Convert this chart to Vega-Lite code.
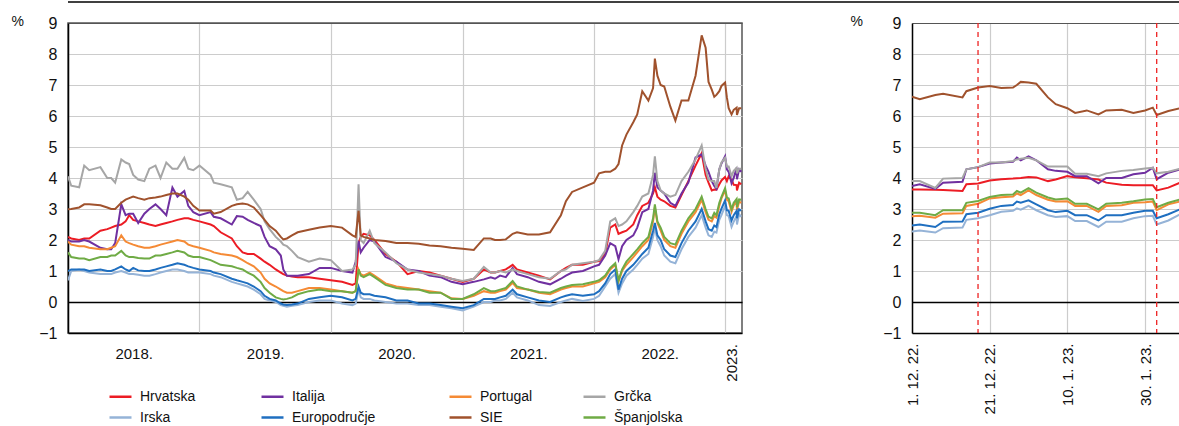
{
"$schema": "https://vega.github.io/schema/vega-lite/v6.json",
"padding": {"left": 10, "top": 1, "right": 0, "bottom": 0},
"background": "white",
"config": {
  "font": "Liberation Sans",
  "view": {"stroke": null},
  "axis": {"labelFont": "Liberation Sans", "labelFontSize": 15, "labelColor": "#111", "titleFont": "Liberation Sans", "titleFontWeight": "normal", "titleFontSize": 14, "titleColor": "#111"},
  "axisY": {"labelOverlap": false, "labelFlush": false}
},
"datasets": {
"long": [
{"dan":"2018-01-01","Hrvatska":2.1,"Italija":2.0,"Portugal":1.95,"Grčka":4.05,"Irska":0.7,"Europodručje":1.0,"SIE":2.99,"Španjolska":1.6},
{"dan":"2018-01-10","Hrvatska":2.05,"Italija":1.95,"Portugal":1.85,"Grčka":3.75,"Irska":1.0,"Europodručje":1.05,"SIE":3.0,"Španjolska":1.45},
{"dan":"2018-02-01","Hrvatska":2.0,"Italija":1.95,"Portugal":1.8,"Grčka":3.7,"Irska":1.05,"Europodručje":1.05,"SIE":3.05,"Španjolska":1.4},
{"dan":"2018-02-15","Hrvatska":2.05,"Italija":2.0,"Portugal":1.8,"Grčka":4.4,"Irska":1.0,"Europodručje":1.05,"SIE":3.15,"Španjolska":1.4},
{"dan":"2018-03-01","Hrvatska":2.05,"Italija":1.95,"Portugal":1.75,"Grčka":4.25,"Irska":0.95,"Europodručje":1.0,"SIE":3.15,"Španjolska":1.35},
{"dan":"2018-04-01","Hrvatska":2.3,"Italija":1.75,"Portugal":1.7,"Grčka":4.35,"Irska":0.9,"Europodručje":1.05,"SIE":3.12,"Španjolska":1.45},
{"dan":"2018-04-20","Hrvatska":2.35,"Italija":1.7,"Portugal":1.7,"Grčka":4.0,"Irska":0.9,"Europodručje":1.0,"SIE":3.05,"Španjolska":1.45},
{"dan":"2018-05-01","Hrvatska":2.4,"Italija":1.7,"Portugal":1.75,"Grčka":4.0,"Irska":0.9,"Europodručje":1.0,"SIE":3.0,"Španjolska":1.5},
{"dan":"2018-05-12","Hrvatska":2.45,"Italija":1.9,"Portugal":1.8,"Grčka":3.85,"Irska":0.95,"Europodručje":1.05,"SIE":3.0,"Španjolska":1.5},
{"dan":"2018-05-29","Hrvatska":2.5,"Italija":3.15,"Portugal":2.15,"Grčka":4.6,"Irska":1.0,"Europodručje":1.15,"SIE":3.2,"Španjolska":1.65},
{"dan":"2018-06-10","Hrvatska":2.6,"Italija":2.8,"Portugal":1.95,"Grčka":4.5,"Irska":0.95,"Europodručje":1.05,"SIE":3.3,"Španjolska":1.5},
{"dan":"2018-06-20","Hrvatska":2.8,"Italija":2.85,"Portugal":1.9,"Grčka":4.45,"Irska":0.9,"Europodručje":1.0,"SIE":3.35,"Španjolska":1.45},
{"dan":"2018-07-01","Hrvatska":2.65,"Italija":2.85,"Portugal":1.85,"Grčka":4.1,"Irska":0.9,"Europodručje":1.1,"SIE":3.4,"Španjolska":1.45},
{"dan":"2018-07-15","Hrvatska":2.6,"Italija":2.55,"Portugal":1.8,"Grčka":3.95,"Irska":0.88,"Europodručje":1.02,"SIE":3.35,"Španjolska":1.42},
{"dan":"2018-08-01","Hrvatska":2.55,"Italija":2.85,"Portugal":1.75,"Grčka":3.9,"Irska":0.85,"Europodručje":1.0,"SIE":3.3,"Španjolska":1.4},
{"dan":"2018-08-15","Hrvatska":2.5,"Italija":3.0,"Portugal":1.75,"Grčka":4.3,"Irska":0.85,"Europodručje":1.0,"SIE":3.35,"Španjolska":1.4},
{"dan":"2018-09-01","Hrvatska":2.45,"Italija":3.15,"Portugal":1.8,"Grčka":4.4,"Irska":0.9,"Europodručje":1.05,"SIE":3.37,"Španjolska":1.5},
{"dan":"2018-09-15","Hrvatska":2.5,"Italija":3.0,"Portugal":1.85,"Grčka":4.0,"Irska":0.95,"Europodručje":1.1,"SIE":3.4,"Španjolska":1.5},
{"dan":"2018-10-01","Hrvatska":2.55,"Italija":2.8,"Portugal":1.9,"Grčka":4.5,"Irska":1.0,"Europodručje":1.15,"SIE":3.45,"Španjolska":1.55},
{"dan":"2018-10-18","Hrvatska":2.6,"Italija":3.69,"Portugal":1.95,"Grčka":4.3,"Irska":1.05,"Europodručje":1.2,"SIE":3.5,"Španjolska":1.6},
{"dan":"2018-11-01","Hrvatska":2.65,"Italija":3.4,"Portugal":2.0,"Grčka":4.3,"Irska":1.05,"Europodručje":1.25,"SIE":3.5,"Španjolska":1.65},
{"dan":"2018-11-20","Hrvatska":2.7,"Italija":3.58,"Portugal":1.95,"Grčka":4.65,"Irska":1.0,"Europodručje":1.2,"SIE":3.4,"Španjolska":1.6},
{"dan":"2018-12-01","Hrvatska":2.7,"Italija":3.1,"Portugal":1.85,"Grčka":4.3,"Irska":0.95,"Europodručje":1.15,"SIE":3.3,"Španjolska":1.5},
{"dan":"2018-12-15","Hrvatska":2.65,"Italija":2.9,"Portugal":1.8,"Grčka":4.25,"Irska":0.95,"Europodručje":1.1,"SIE":3.1,"Španjolska":1.45},
{"dan":"2019-01-01","Hrvatska":2.6,"Italija":2.8,"Portugal":1.75,"Grčka":4.4,"Irska":0.95,"Europodručje":1.05,"SIE":2.95,"Španjolska":1.45},
{"dan":"2019-02-01","Hrvatska":2.5,"Italija":2.9,"Portugal":1.65,"Grčka":4.1,"Irska":0.9,"Europodručje":1.0,"SIE":2.95,"Španjolska":1.35},
{"dan":"2019-02-10","Hrvatska":2.45,"Italija":2.75,"Portugal":1.6,"Grčka":3.85,"Irska":0.85,"Europodručje":0.95,"SIE":2.85,"Španjolska":1.3},
{"dan":"2019-03-01","Hrvatska":2.25,"Italija":2.7,"Portugal":1.55,"Grčka":3.8,"Irska":0.8,"Europodručje":0.9,"SIE":2.9,"Španjolska":1.2},
{"dan":"2019-04-01","Hrvatska":2.05,"Italija":2.5,"Portugal":1.5,"Grčka":3.7,"Irska":0.65,"Europodručje":0.75,"SIE":3.1,"Španjolska":1.15},
{"dan":"2019-04-15","Hrvatska":1.8,"Italija":2.77,"Portugal":1.45,"Grčka":3.3,"Irska":0.6,"Europodručje":0.7,"SIE":3.15,"Španjolska":1.1},
{"dan":"2019-05-01","Hrvatska":1.6,"Italija":2.75,"Portugal":1.35,"Grčka":3.35,"Irska":0.55,"Europodručje":0.65,"SIE":3.18,"Španjolska":1.05},
{"dan":"2019-05-15","Hrvatska":1.55,"Italija":2.65,"Portugal":1.25,"Grčka":3.55,"Irska":0.5,"Europodručje":0.6,"SIE":3.15,"Španjolska":0.95},
{"dan":"2019-06-01","Hrvatska":1.55,"Italija":2.55,"Portugal":1.15,"Grčka":3.3,"Irska":0.4,"Europodručje":0.5,"SIE":3.05,"Španjolska":0.85},
{"dan":"2019-06-20","Hrvatska":1.4,"Italija":2.45,"Portugal":0.95,"Grčka":3.0,"Irska":0.25,"Europodručje":0.35,"SIE":2.8,"Španjolska":0.65},
{"dan":"2019-07-01","Hrvatska":1.3,"Italija":2.1,"Portugal":0.75,"Grčka":2.6,"Irska":0.1,"Europodručje":0.2,"SIE":2.65,"Španjolska":0.45},
{"dan":"2019-07-15","Hrvatska":1.2,"Italija":1.8,"Portugal":0.6,"Grčka":2.35,"Irska":0.05,"Europodručje":0.1,"SIE":2.45,"Španjolska":0.3},
{"dan":"2019-08-01","Hrvatska":1.05,"Italija":1.7,"Portugal":0.5,"Grčka":2.1,"Irska":0.0,"Europodručje":0.05,"SIE":2.3,"Španjolska":0.15},
{"dan":"2019-08-15","Hrvatska":0.95,"Italija":1.5,"Portugal":0.4,"Grčka":1.95,"Irska":-0.1,"Europodručje":-0.05,"SIE":2.1,"Španjolska":0.1},
{"dan":"2019-08-22","Hrvatska":0.9,"Italija":1.05,"Portugal":0.35,"Grčka":1.85,"Irska":-0.12,"Europodručje":-0.08,"SIE":2.02,"Španjolska":0.08},
{"dan":"2019-09-01","Hrvatska":0.85,"Italija":0.85,"Portugal":0.3,"Grčka":1.8,"Irska":-0.15,"Europodručje":-0.1,"SIE":2.05,"Španjolska":0.1},
{"dan":"2019-09-15","Hrvatska":0.82,"Italija":0.85,"Portugal":0.3,"Grčka":1.65,"Irska":-0.12,"Europodručje":-0.08,"SIE":2.15,"Španjolska":0.15},
{"dan":"2019-10-01","Hrvatska":0.8,"Italija":0.85,"Portugal":0.35,"Grčka":1.45,"Irska":-0.1,"Europodručje":-0.05,"SIE":2.25,"Španjolska":0.25},
{"dan":"2019-11-01","Hrvatska":0.8,"Italija":0.9,"Portugal":0.45,"Grčka":1.3,"Irska":0.0,"Europodručje":0.1,"SIE":2.33,"Španjolska":0.35},
{"dan":"2019-12-01","Hrvatska":0.75,"Italija":1.1,"Portugal":0.45,"Grčka":1.4,"Irska":0.05,"Europodručje":0.15,"SIE":2.4,"Španjolska":0.4},
{"dan":"2020-01-01","Hrvatska":0.7,"Italija":1.1,"Portugal":0.4,"Grčka":1.35,"Irska":0.05,"Europodručje":0.2,"SIE":2.45,"Španjolska":0.35},
{"dan":"2020-02-01","Hrvatska":0.65,"Italija":1.0,"Portugal":0.35,"Grčka":1.0,"Irska":-0.05,"Europodručje":0.15,"SIE":2.4,"Španjolska":0.35},
{"dan":"2020-03-01","Hrvatska":0.55,"Italija":0.95,"Portugal":0.3,"Grčka":1.05,"Irska":-0.1,"Europodručje":0.05,"SIE":2.15,"Španjolska":0.3},
{"dan":"2020-03-10","Hrvatska":0.6,"Italija":1.3,"Portugal":0.35,"Grčka":1.2,"Irska":-0.05,"Europodručje":0.1,"SIE":2.1,"Španjolska":0.35},
{"dan":"2020-03-18","Hrvatska":1.9,"Italija":1.97,"Portugal":1.05,"Grčka":3.8,"Irska":0.4,"Europodručje":0.5,"SIE":2.94,"Španjolska":1.05},
{"dan":"2020-03-24","Hrvatska":2.1,"Italija":1.6,"Portugal":0.9,"Grčka":2.0,"Irska":0.15,"Europodručje":0.3,"SIE":2.15,"Španjolska":0.85},
{"dan":"2020-04-01","Hrvatska":2.2,"Italija":1.75,"Portugal":0.85,"Grčka":1.9,"Irska":0.1,"Europodručje":0.25,"SIE":2.1,"Španjolska":0.8},
{"dan":"2020-04-18","Hrvatska":2.15,"Italija":2.0,"Portugal":0.95,"Grčka":2.3,"Irska":0.1,"Europodručje":0.25,"SIE":2.05,"Španjolska":0.9},
{"dan":"2020-05-01","Hrvatska":2.0,"Italija":1.95,"Portugal":0.85,"Grčka":1.9,"Irska":0.05,"Europodručje":0.2,"SIE":2.0,"Španjolska":0.8},
{"dan":"2020-06-01","Hrvatska":1.55,"Italija":1.45,"Portugal":0.6,"Grčka":1.6,"Irska":0.0,"Europodručje":0.15,"SIE":1.97,"Španjolska":0.55},
{"dan":"2020-07-01","Hrvatska":1.3,"Italija":1.3,"Portugal":0.5,"Grčka":1.25,"Irska":-0.05,"Europodručje":0.05,"SIE":1.9,"Španjolska":0.45},
{"dan":"2020-08-01","Hrvatska":0.9,"Italija":1.05,"Portugal":0.45,"Grčka":1.05,"Irska":-0.05,"Europodručje":0.05,"SIE":1.9,"Španjolska":0.4},
{"dan":"2020-09-01","Hrvatska":1.0,"Italija":1.0,"Portugal":0.4,"Grčka":0.95,"Irska":-0.1,"Europodručje":-0.05,"SIE":1.88,"Španjolska":0.4},
{"dan":"2020-10-01","Hrvatska":0.95,"Italija":0.85,"Portugal":0.35,"Grčka":0.9,"Irska":-0.1,"Europodručje":-0.05,"SIE":1.82,"Španjolska":0.3},
{"dan":"2020-11-01","Hrvatska":0.85,"Italija":0.8,"Portugal":0.3,"Grčka":0.85,"Irska":-0.15,"Europodručje":-0.1,"SIE":1.8,"Španjolska":0.3},
{"dan":"2020-12-01","Hrvatska":0.75,"Italija":0.65,"Portugal":0.12,"Grčka":0.75,"Irska":-0.2,"Europodručje":-0.15,"SIE":1.75,"Španjolska":0.1},
{"dan":"2021-01-01","Hrvatska":0.65,"Italija":0.57,"Portugal":0.1,"Grčka":0.68,"Irska":-0.27,"Europodručje":-0.2,"SIE":1.72,"Španjolska":0.1},
{"dan":"2021-02-01","Hrvatska":0.75,"Italija":0.65,"Portugal":0.2,"Grčka":0.75,"Irska":-0.15,"Europodručje":-0.1,"SIE":1.68,"Španjolska":0.25},
{"dan":"2021-03-01","Hrvatska":1.05,"Italija":0.73,"Portugal":0.35,"Grčka":1.13,"Irska":0.0,"Europodručje":0.1,"SIE":2.05,"Španjolska":0.45},
{"dan":"2021-03-20","Hrvatska":0.95,"Italija":0.8,"Portugal":0.3,"Grčka":0.95,"Irska":0.0,"Europodručje":0.1,"SIE":2.05,"Španjolska":0.35},
{"dan":"2021-04-01","Hrvatska":0.95,"Italija":0.75,"Portugal":0.3,"Grčka":0.95,"Irska":0.05,"Europodručje":0.1,"SIE":2.0,"Španjolska":0.35},
{"dan":"2021-04-15","Hrvatska":1.0,"Italija":0.85,"Portugal":0.35,"Grčka":1.0,"Irska":0.05,"Europodručje":0.15,"SIE":2.0,"Španjolska":0.4},
{"dan":"2021-05-01","Hrvatska":1.05,"Italija":0.8,"Portugal":0.4,"Grčka":0.95,"Irska":0.1,"Europodručje":0.2,"SIE":2.02,"Španjolska":0.45},
{"dan":"2021-05-20","Hrvatska":1.2,"Italija":1.1,"Portugal":0.62,"Grčka":1.05,"Irska":0.3,"Europodručje":0.4,"SIE":2.2,"Španjolska":0.68},
{"dan":"2021-06-01","Hrvatska":1.05,"Italija":0.9,"Portugal":0.45,"Grčka":1.0,"Irska":0.15,"Europodručje":0.25,"SIE":2.25,"Španjolska":0.5},
{"dan":"2021-07-01","Hrvatska":0.95,"Italija":0.8,"Portugal":0.4,"Grčka":0.9,"Irska":0.05,"Europodručje":0.15,"SIE":2.18,"Španjolska":0.4},
{"dan":"2021-08-01","Hrvatska":0.85,"Italija":0.65,"Portugal":0.3,"Grčka":0.8,"Irska":-0.1,"Europodručje":0.05,"SIE":2.18,"Španjolska":0.32},
{"dan":"2021-09-01","Hrvatska":0.73,"Italija":0.57,"Portugal":0.25,"Grčka":0.75,"Irska":-0.13,"Europodručje":0.0,"SIE":2.25,"Španjolska":0.3},
{"dan":"2021-10-01","Hrvatska":1.0,"Italija":0.75,"Portugal":0.4,"Grčka":1.0,"Irska":0.0,"Europodručje":0.15,"SIE":2.8,"Španjolska":0.45},
{"dan":"2021-10-15","Hrvatska":1.1,"Italija":0.85,"Portugal":0.45,"Grčka":1.05,"Irska":0.05,"Europodručje":0.2,"SIE":3.25,"Španjolska":0.5},
{"dan":"2021-11-01","Hrvatska":1.2,"Italija":0.95,"Portugal":0.5,"Grčka":1.2,"Irska":0.1,"Europodručje":0.25,"SIE":3.55,"Španjolska":0.55},
{"dan":"2021-12-01","Hrvatska":1.2,"Italija":1.0,"Portugal":0.5,"Grčka":1.25,"Irska":0.03,"Europodručje":0.2,"SIE":3.7,"Španjolska":0.57},
{"dan":"2022-01-01","Hrvatska":1.3,"Italija":1.15,"Portugal":0.6,"Grčka":1.3,"Irska":0.1,"Europodručje":0.25,"SIE":3.85,"Španjolska":0.65},
{"dan":"2022-01-15","Hrvatska":1.32,"Italija":1.2,"Portugal":0.65,"Grčka":1.35,"Irska":0.2,"Europodručje":0.35,"SIE":4.15,"Španjolska":0.7},
{"dan":"2022-02-01","Hrvatska":1.55,"Italija":1.5,"Portugal":0.8,"Grčka":1.65,"Irska":0.5,"Europodručje":0.6,"SIE":4.2,"Španjolska":0.85},
{"dan":"2022-02-15","Hrvatska":2.4,"Italija":1.9,"Portugal":1.05,"Grčka":2.6,"Irska":0.75,"Europodručje":0.9,"SIE":4.2,"Španjolska":1.1},
{"dan":"2022-03-01","Hrvatska":2.5,"Italija":1.8,"Portugal":1.2,"Grčka":2.7,"Irska":0.9,"Europodručje":1.05,"SIE":4.3,"Španjolska":1.25},
{"dan":"2022-03-10","Hrvatska":2.2,"Italija":1.38,"Portugal":0.65,"Grčka":2.45,"Irska":0.3,"Europodručje":0.4,"SIE":4.45,"Španjolska":0.7},
{"dan":"2022-03-20","Hrvatska":2.25,"Italija":1.8,"Portugal":1.0,"Grčka":2.5,"Irska":0.6,"Europodručje":0.75,"SIE":5.05,"Španjolska":1.05},
{"dan":"2022-04-01","Hrvatska":2.3,"Italija":2.0,"Portugal":1.2,"Grčka":2.6,"Irska":0.85,"Europodručje":1.0,"SIE":5.4,"Španjolska":1.3},
{"dan":"2022-04-20","Hrvatska":2.5,"Italija":2.15,"Portugal":1.45,"Grčka":2.9,"Irska":1.05,"Europodručje":1.2,"SIE":5.8,"Španjolska":1.55},
{"dan":"2022-05-01","Hrvatska":2.8,"Italija":2.4,"Portugal":1.6,"Grčka":3.1,"Irska":1.2,"Europodručje":1.35,"SIE":6.05,"Španjolska":1.7},
{"dan":"2022-05-15","Hrvatska":3.1,"Italija":2.9,"Portugal":1.8,"Grčka":3.4,"Irska":1.4,"Europodručje":1.55,"SIE":6.8,"Španjolska":1.9},
{"dan":"2022-06-01","Hrvatska":3.2,"Italija":3.0,"Portugal":2.0,"Grčka":3.5,"Irska":1.55,"Europodručje":1.75,"SIE":6.5,"Španjolska":2.1},
{"dan":"2022-06-14","Hrvatska":3.5,"Italija":3.6,"Portugal":2.6,"Grčka":4.1,"Irska":2.1,"Europodručje":2.3,"SIE":6.9,"Španjolska":2.7},
{"dan":"2022-06-19","Hrvatska":3.7,"Italija":4.17,"Portugal":3.05,"Grčka":4.7,"Irska":2.4,"Europodručje":2.55,"SIE":7.85,"Španjolska":3.15},
{"dan":"2022-06-26","Hrvatska":3.4,"Italija":3.7,"Portugal":2.55,"Grčka":3.9,"Irska":2.0,"Europodručje":2.15,"SIE":7.3,"Španjolska":2.6},
{"dan":"2022-07-05","Hrvatska":3.3,"Italija":3.6,"Portugal":2.3,"Grčka":3.6,"Irska":1.8,"Europodručje":2.0,"SIE":7.0,"Španjolska":2.4},
{"dan":"2022-07-15","Hrvatska":3.25,"Italija":3.5,"Portugal":2.0,"Grčka":3.5,"Irska":1.5,"Europodručje":1.7,"SIE":6.95,"Španjolska":2.1},
{"dan":"2022-08-01","Hrvatska":3.1,"Italija":3.2,"Portugal":1.8,"Grčka":3.4,"Irska":1.3,"Europodručje":1.5,"SIE":6.3,"Španjolska":1.9},
{"dan":"2022-08-15","Hrvatska":3.05,"Italija":3.1,"Portugal":1.75,"Grčka":3.45,"Irska":1.25,"Europodručje":1.45,"SIE":5.85,"Španjolska":1.85},
{"dan":"2022-09-01","Hrvatska":3.45,"Italija":3.5,"Portugal":2.2,"Grčka":3.9,"Irska":1.7,"Europodručje":1.9,"SIE":6.5,"Španjolska":2.3},
{"dan":"2022-09-20","Hrvatska":3.9,"Italija":3.85,"Portugal":2.6,"Grčka":4.2,"Irska":2.1,"Europodručje":2.3,"SIE":6.5,"Španjolska":2.7},
{"dan":"2022-10-10","Hrvatska":4.4,"Italija":4.66,"Portugal":2.9,"Grčka":4.6,"Irska":2.4,"Europodručje":2.6,"SIE":7.3,"Španjolska":3.0},
{"dan":"2022-10-27","Hrvatska":4.8,"Italija":4.76,"Portugal":3.3,"Grčka":5.05,"Irska":2.8,"Europodručje":3.0,"SIE":8.6,"Španjolska":3.4},
{"dan":"2022-11-07","Hrvatska":4.1,"Italija":4.4,"Portugal":2.9,"Grčka":4.3,"Irska":2.4,"Europodručje":2.6,"SIE":8.2,"Španjolska":3.0},
{"dan":"2022-11-15","Hrvatska":3.85,"Italija":4.2,"Portugal":2.65,"Grčka":3.95,"Irska":2.15,"Europodručje":2.35,"SIE":7.1,"Španjolska":2.75},
{"dan":"2022-11-24","Hrvatska":3.6,"Italija":3.9,"Portugal":2.6,"Grčka":3.9,"Irska":2.1,"Europodručje":2.3,"SIE":6.85,"Španjolska":2.7},
{"dan":"2022-12-01","Hrvatska":3.63,"Italija":3.74,"Portugal":2.77,"Grčka":3.9,"Irska":2.27,"Europodručje":2.47,"SIE":6.62,"Španjolska":2.88},
{"dan":"2022-12-07","Hrvatska":3.62,"Italija":3.65,"Portugal":2.72,"Grčka":3.68,"Irska":2.24,"Europodručje":2.42,"SIE":6.68,"Španjolska":2.8},
{"dan":"2022-12-15","Hrvatska":3.8,"Italija":4.28,"Portugal":3.1,"Grčka":4.28,"Irska":2.65,"Europodručje":2.83,"SIE":6.8,"Španjolska":3.2},
{"dan":"2022-12-21","Hrvatska":3.92,"Italija":4.47,"Portugal":3.34,"Grčka":4.5,"Irska":2.8,"Europodručje":3.01,"SIE":6.97,"Španjolska":3.39},
{"dan":"2022-12-31","Hrvatska":4.03,"Italija":4.7,"Portugal":3.6,"Grčka":4.65,"Irska":3.1,"Europodručje":3.28,"SIE":7.08,"Španjolska":3.67},
{"dan":"2023-01-05","Hrvatska":3.9,"Italija":4.28,"Portugal":3.3,"Grčka":4.37,"Irska":2.8,"Europodručje":2.96,"SIE":6.6,"Španjolska":3.37},
{"dan":"2023-01-10","Hrvatska":4.06,"Italija":4.2,"Portugal":3.25,"Grčka":4.37,"Irska":2.77,"Europodručje":2.94,"SIE":6.25,"Španjolska":3.34},
{"dan":"2023-01-18","Hrvatska":3.95,"Italija":3.83,"Portugal":2.91,"Grčka":4.06,"Irska":2.42,"Europodručje":2.63,"SIE":6.05,"Španjolska":2.99},
{"dan":"2023-01-24","Hrvatska":3.78,"Italija":4.0,"Portugal":3.12,"Grčka":4.23,"Irska":2.59,"Europodručje":2.8,"SIE":6.2,"Španjolska":3.2},
{"dan":"2023-02-01","Hrvatska":3.77,"Italija":4.33,"Portugal":3.24,"Grčka":4.33,"Irska":2.78,"Europodručje":2.94,"SIE":6.27,"Španjolska":3.32},
{"dan":"2023-02-02","Hrvatska":3.6,"Italija":3.96,"Portugal":2.96,"Grčka":4.15,"Irska":2.5,"Europodručje":2.7,"SIE":6.03,"Španjolska":3.06},
{"dan":"2023-02-08","Hrvatska":3.85,"Italija":4.28,"Portugal":3.24,"Grčka":4.3,"Irska":2.83,"Europodručje":2.99,"SIE":6.25,"Španjolska":3.31},
{"dan":"2023-02-14","Hrvatska":3.8,"Italija":4.2,"Portugal":3.2,"Grčka":4.3,"Irska":2.75,"Europodručje":2.95,"SIE":6.25,"Španjolska":3.3}
],
"zoom": [
{"dan":"2022-12-01","Hrvatska":3.63,"Italija":3.74,"Portugal":2.77,"Grčka":3.9,"Irska":2.27,"Europodručje":2.47,"SIE":6.62,"Španjolska":2.88},
{"dan":"2022-12-03","Hrvatska":3.63,"Italija":3.8,"Portugal":2.78,"Grčka":3.9,"Irska":2.31,"Europodručje":2.5,"SIE":6.54,"Španjolska":2.88},
{"dan":"2022-12-07","Hrvatska":3.62,"Italija":3.65,"Portugal":2.72,"Grčka":3.68,"Irska":2.24,"Europodručje":2.42,"SIE":6.68,"Španjolska":2.8},
{"dan":"2022-12-09","Hrvatska":3.61,"Italija":3.85,"Portugal":2.85,"Grčka":3.98,"Irska":2.38,"Europodručje":2.59,"SIE":6.72,"Španjolska":2.96},
{"dan":"2022-12-14","Hrvatska":3.58,"Italija":3.88,"Portugal":2.86,"Grčka":4.0,"Irska":2.4,"Europodručje":2.6,"SIE":6.6,"Španjolska":2.96},
{"dan":"2022-12-15","Hrvatska":3.8,"Italija":4.28,"Portugal":3.1,"Grčka":4.28,"Irska":2.65,"Europodručje":2.83,"SIE":6.8,"Španjolska":3.2},
{"dan":"2022-12-18","Hrvatska":3.82,"Italija":4.35,"Portugal":3.17,"Grčka":4.35,"Irska":2.7,"Europodručje":2.88,"SIE":6.92,"Španjolska":3.26},
{"dan":"2022-12-21","Hrvatska":3.92,"Italija":4.47,"Portugal":3.34,"Grčka":4.5,"Irska":2.8,"Europodručje":3.01,"SIE":6.97,"Španjolska":3.39},
{"dan":"2022-12-24","Hrvatska":3.96,"Italija":4.5,"Portugal":3.38,"Grčka":4.5,"Irska":2.91,"Europodručje":3.1,"SIE":6.9,"Španjolska":3.45},
{"dan":"2022-12-27","Hrvatska":3.98,"Italija":4.52,"Portugal":3.4,"Grčka":4.55,"Irska":2.94,"Europodručje":3.13,"SIE":6.92,"Španjolska":3.47},
{"dan":"2022-12-28","Hrvatska":3.99,"Italija":4.66,"Portugal":3.5,"Grčka":4.6,"Irska":3.02,"Europodručje":3.24,"SIE":7.0,"Španjolska":3.58},
{"dan":"2022-12-29","Hrvatska":4.0,"Italija":4.57,"Portugal":3.45,"Grčka":4.62,"Irska":2.98,"Europodručje":3.2,"SIE":7.1,"Španjolska":3.53},
{"dan":"2022-12-31","Hrvatska":4.03,"Italija":4.7,"Portugal":3.6,"Grčka":4.65,"Irska":3.1,"Europodručje":3.28,"SIE":7.08,"Španjolska":3.67},
{"dan":"2023-01-02","Hrvatska":4.02,"Italija":4.57,"Portugal":3.45,"Grčka":4.57,"Irska":2.96,"Europodručje":3.15,"SIE":7.04,"Španjolska":3.53},
{"dan":"2023-01-05","Hrvatska":3.9,"Italija":4.28,"Portugal":3.3,"Grčka":4.37,"Irska":2.8,"Europodručje":2.96,"SIE":6.6,"Španjolska":3.37},
{"dan":"2023-01-07","Hrvatska":3.95,"Italija":4.23,"Portugal":3.24,"Grčka":4.37,"Irska":2.74,"Europodručje":2.9,"SIE":6.38,"Španjolska":3.31},
{"dan":"2023-01-10","Hrvatska":4.06,"Italija":4.2,"Portugal":3.25,"Grčka":4.37,"Irska":2.77,"Europodručje":2.94,"SIE":6.25,"Španjolska":3.34},
{"dan":"2023-01-12","Hrvatska":4.02,"Italija":4.06,"Portugal":3.1,"Grčka":4.14,"Irska":2.61,"Europodručje":2.8,"SIE":6.1,"Španjolska":3.17},
{"dan":"2023-01-15","Hrvatska":3.99,"Italija":4.06,"Portugal":3.1,"Grčka":4.14,"Irska":2.61,"Europodručje":2.8,"SIE":6.18,"Španjolska":3.17},
{"dan":"2023-01-18","Hrvatska":3.95,"Italija":3.83,"Portugal":2.91,"Grčka":4.06,"Irska":2.42,"Europodručje":2.63,"SIE":6.05,"Španjolska":2.99},
{"dan":"2023-01-20","Hrvatska":3.85,"Italija":4.0,"Portugal":3.1,"Grčka":4.15,"Irska":2.59,"Europodručje":2.8,"SIE":6.18,"Španjolska":3.17},
{"dan":"2023-01-24","Hrvatska":3.78,"Italija":4.0,"Portugal":3.12,"Grčka":4.23,"Irska":2.59,"Europodručje":2.8,"SIE":6.2,"Španjolska":3.2},
{"dan":"2023-01-27","Hrvatska":3.77,"Italija":4.12,"Portugal":3.2,"Grčka":4.26,"Irska":2.7,"Europodručje":2.88,"SIE":6.1,"Španjolska":3.25},
{"dan":"2023-01-30","Hrvatska":3.77,"Italija":4.17,"Portugal":3.22,"Grčka":4.31,"Irska":2.77,"Europodručje":2.94,"SIE":6.18,"Španjolska":3.31},
{"dan":"2023-02-01","Hrvatska":3.77,"Italija":4.33,"Portugal":3.24,"Grčka":4.33,"Irska":2.78,"Europodručje":2.94,"SIE":6.27,"Španjolska":3.32},
{"dan":"2023-02-02","Hrvatska":3.6,"Italija":3.96,"Portugal":2.96,"Grčka":4.15,"Irska":2.5,"Europodručje":2.7,"SIE":6.03,"Španjolska":3.06},
{"dan":"2023-02-05","Hrvatska":3.69,"Italija":4.17,"Portugal":3.15,"Grčka":4.2,"Irska":2.63,"Europodručje":2.83,"SIE":6.16,"Španjolska":3.2},
{"dan":"2023-02-08","Hrvatska":3.85,"Italija":4.28,"Portugal":3.24,"Grčka":4.3,"Irska":2.83,"Europodručje":2.99,"SIE":6.25,"Španjolska":3.31}
]
},
"spacing": 10,
"vconcat": [
{
  "width": 1169, "height": 1,
  "data": {"values": [{"crta": 1}]},
  "mark": {"type": "rule", "color": "#000", "strokeWidth": 1.5},
  "encoding": {"y": {"field": "crta", "type": "quantitative", "scale": {"domain": [0, 1]}, "axis": null}}
},
{
  "spacing": 58,
  "resolve": {"scale": {"x": "independent", "y": "independent", "color": "shared"}, "legend": {"color": "independent"}},
  "hconcat": [
  {
    "width": 674, "height": 310,
    "view": {"stroke": "#555", "strokeWidth": 1.5},
    "encoding": {
      "y": {"type": "quantitative",
        "scale": {"domain": [-1, 9], "nice": false, "zero": false},
        "axis": {"title": "%", "titleAngle": 0, "titleX": -57, "titleY": -9, "titleAlign": "left", "titleBaseline": "top",
          "values": [-1,0,1,2,3,4,5,6,7,8,9], "format": "d", "labelFontSize": 16, "labelPadding": 11, "labelOverlap": false, "labelFlush": false,
          "grid": true,
          "gridColor": {"condition": [{"test": "datum.value === 0", "value": "#000"}, {"test": "datum.value === 9", "value": "#555"}], "value": "#cccccc"},
          "gridWidth": {"condition": {"test": "datum.value === 0", "value": 1.4}, "value": 1.2},
          "ticks": false, "tickSize": 0, "domainColor": "#000", "domainWidth": 1.5}}
    },
    "layer": [
    {
      "data": {"name": "long"},
      "transform": [{"fold": ["Hrvatska","Italija","Portugal","Grčka","Irska","Europodručje","SIE","Španjolska"], "as": ["serija","vrijednost"]}],
      "mark": {"type": "line", "strokeWidth": 2, "clip": true},
      "encoding": {
        "x": {"field": "dan", "type": "temporal",
          "scale": {"type": "utc", "domain": [{"year": 2018, "month": 1, "date": 1, "utc": true}, {"year": 2023, "month": 2, "date": 16, "utc": true}]},
          "axis": {"title": null,
            "values": [{"year": 2018, "month": 1, "date": 1, "utc": true},{"year": 2019, "month": 1, "date": 1, "utc": true},{"year": 2020, "month": 1, "date": 1, "utc": true},{"year": 2021, "month": 1, "date": 1, "utc": true},{"year": 2022, "month": 1, "date": 1, "utc": true},{"year": 2023, "month": 1, "date": 1, "utc": true}],
            "labelExpr": "utcyear(datum.value) < 2023 ? utcyear(datum.value) + '.' : ''",
            "labelOffset": 65.7, "labelPadding": 13, "labelFontSize": 15, "labelFlush": false, "labelOverlap": false,
            "grid": true, "gridColor": "#cccccc", "gridWidth": 1.2,
            "ticks": false, "tickSize": 0, "domainColor": "#000", "domainWidth": 1.5}},
        "y": {"field": "vrijednost"},
        "color": {"field": "serija", "type": "nominal",
          "scale": {"domain": ["Hrvatska","Italija","Portugal","Grčka","Irska","Europodručje","SIE","Španjolska"],
                    "range": ["#ec1c24","#7030a0","#f58a35","#a6a6a6","#95b3d7","#1f6fc0","#a0522d","#6fab45"]},
          "legend": {"orient": "none", "legendX": 40, "legendY": 361, "direction": "horizontal", "columns": 4, "title": null,
            "symbolType": "stroke", "symbolStrokeWidth": 2.5, "symbolSize": 484,
            "labelFont": "Liberation Sans", "labelFontSize": 14, "labelColor": "#111",
            "labelExpr": "datum.label === 'Europodručje' ? datum.label + '\u2007\u2007\u2007\u200b' : (datum.label === 'Hrvatska' ? datum.label + '\u2007\u2007\u200b' : datum.label)",
            "labelOffset": 7, "columnPadding": 45, "rowPadding": 1, "padding": 0, "labelLimit": 300}}
      }
    },
    {
      "data": {"values": [{"dan": "2023-01-19", "oznaka": "2023.", "polozaj": -1.36}]},
      "mark": {"type": "text", "angle": 270, "align": "right", "baseline": "middle", "fontSize": 15, "color": "#111"},
      "encoding": {
        "x": {"field": "dan", "type": "temporal"},
        "y": {"field": "polozaj"},
        "text": {"field": "oznaka"}
      }
    }
    ]
  },
  {
    "width": 268, "height": 310,
    "layer": [
    {
      "data": {"name": "zoom"},
      "transform": [{"fold": ["Hrvatska","Italija","Portugal","Grčka","Irska","Europodručje","SIE","Španjolska"], "as": ["serija","vrijednost"]}],
      "mark": {"type": "line", "strokeWidth": 2, "clip": true},
      "encoding": {
        "x": {"field": "dan", "type": "temporal",
          "scale": {"type": "utc", "domain": [{"year": 2022, "month": 12, "date": 1, "utc": true}, {"year": 2023, "month": 2, "date": 8, "utc": true}]},
          "axis": {"title": null,
            "values": [{"year": 2022, "month": 12, "date": 1, "utc": true},{"year": 2022, "month": 12, "date": 21, "utc": true},{"year": 2023, "month": 1, "date": 10, "utc": true},{"year": 2023, "month": 1, "date": 30, "utc": true}],
            "format": "%-d. %-m. %y.", "labelAngle": 270, "labelPadding": 10, "labelFontSize": 15, "labelFlush": false, "labelOverlap": false,
            "grid": true, "gridColor": "#cccccc", "gridWidth": 1.2,
            "ticks": false, "tickSize": 0, "domainColor": "#000", "domainWidth": 1.5}},
        "y": {"field": "vrijednost", "type": "quantitative",
          "scale": {"domain": [-1, 9], "nice": false, "zero": false},
          "axis": {"title": "%", "titleAngle": 0, "titleX": -62, "titleY": -9, "titleAlign": "left", "titleBaseline": "top",
            "values": [-1,0,1,2,3,4,5,6,7,8,9], "format": "d", "labelFontSize": 16, "labelPadding": 11, "labelOverlap": false, "labelFlush": false,
            "grid": true,
            "gridColor": {"condition": [{"test": "datum.value === 0", "value": "#000"}, {"test": "datum.value === 9", "value": "#555"}], "value": "#cccccc"},
            "gridWidth": {"condition": {"test": "datum.value === 0", "value": 1.4}, "value": 1.2},
            "ticks": false, "tickSize": 0, "domainColor": "#000", "domainWidth": 1.5}},
        "color": {"field": "serija", "type": "nominal", "legend": null}
      }
    },
    {
      "data": {"values": [{"dan": "2022-12-18"}, {"dan": "2023-02-02"}]},
      "mark": {"type": "rule", "color": "#ee2222", "strokeDash": [5, 4], "strokeWidth": 1.3},
      "encoding": {"x": {"field": "dan", "type": "temporal"}}
    }
    ]
  }
  ]
}
]
}
